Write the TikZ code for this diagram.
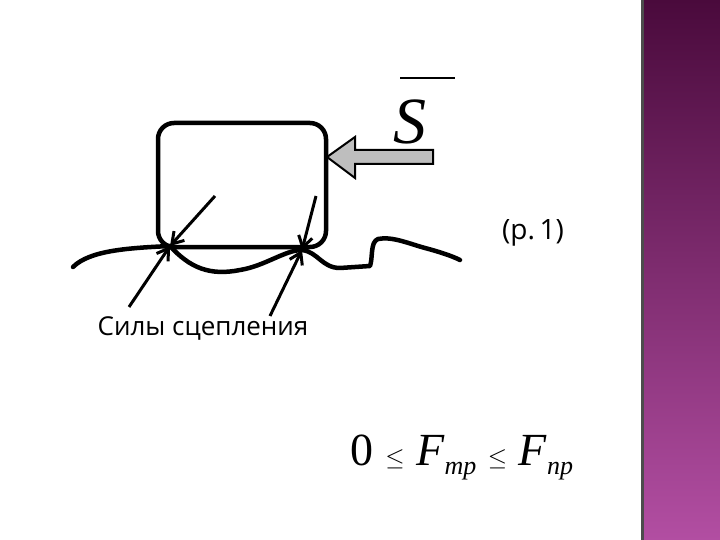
\documentclass[tikz,border=0pt]{standalone}
\usepackage{fontspec}
\setmainfont{Liberation Serif}
\newfontfamily\labfont{Open Sans}
\usetikzlibrary{arrows.meta}
\definecolor{bandtop}{HTML}{4A0A3C}
\definecolor{bandbot}{HTML}{B24EA2}
\definecolor{arrgray}{HTML}{BEBEBE}
\begin{document}
\begin{tikzpicture}[x=1pt,y=-1pt,
  thick line/.style={line width=4.5pt,line cap=round,line join=round},
  force/.style={line width=3pt,-{Straight Barb[length=11pt,width=14pt,line width=3pt]}}]
\useasboundingbox (0,0) rectangle (720,540);
\shade[top color=bandtop,bottom color=bandbot] (643,0) rectangle (720,540);
\fill[black!70] (641,0) rectangle (644,540);
% box
\draw[thick line,rounded corners=16pt] (158,123) rectangle (326,247);
% ground
\draw[thick line] (73,267) .. controls (90,250) and (130,248) .. (170,246);
\draw[thick line] (170,246) .. controls (190,268) and (210,276) .. (240,270)
  .. controls (265,266) and (285,250) .. (302,250)
  .. controls (318,252) and (322,268) .. (340,268) -- (370,266)
  .. controls (373,258) and (370,242) .. (378,239)
  .. controls (392,236) and (410,244) .. (425,248)
  .. controls (440,252) and (452,256) .. (460,260);
% gray arrow
\coordinate (tip) at (327,157);
\draw[line width=2pt,fill=arrgray] (tip) -- (355,137) -- (355,150) -- (433,150) -- (433,164) -- (355,164) -- (355,178) -- cycle;
\node[font=\itshape\fontsize{66}{66}\selectfont] (S) at (410,122) {S};
\draw[line width=1.6pt] (400,78) -- (455,78);
% forces
\coordinate (c1) at (170,246);
\coordinate (c2) at (302,250);
\coordinate (a1) at (215,196);
\coordinate (a2) at (129,307);
\coordinate (a3) at (316,196);
\coordinate (a4) at (270,316);
\draw[force] (a1) -- (c1);
\draw[force] (a2) -- (c1);
\draw[force] (a3) -- (c2);
\draw[force] (a4) -- (c2);
\node[font=\labfont\fontsize{26}{26}\selectfont] (lab) at (203,328) {Силы сцепления};
\node[font=\labfont\fontsize{28}{28}\selectfont] (p) at (533,233) {(р.\,1)};
\node[font=\fontsize{46}{46}\selectfont] (f) at (462,457) {0 $\le$ \textit{F}\raisebox{-9pt}{\fontsize{26}{26}\selectfont\textit{тр}} $\le$ \textit{F}\raisebox{-9pt}{\fontsize{26}{26}\selectfont\textit{пр}}};
\end{tikzpicture}
\end{document}
